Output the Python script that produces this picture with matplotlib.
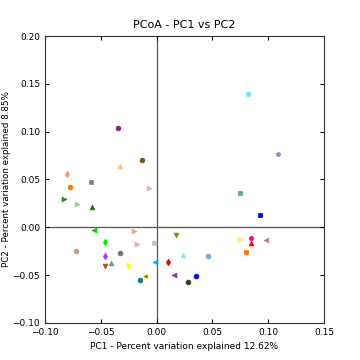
import matplotlib
matplotlib.use('Agg')
import matplotlib.pyplot as plt

# PCoA coordinates per sample
pc1 = [-0.0345, -0.013, -0.033, -0.007, -0.080, -0.078, -0.059, -0.083, -0.071, -0.058,
       0.082, 0.109, 0.075, 0.093, -0.056, -0.020, 0.017, 0.074, 0.085, 0.085,
       0.098, -0.046, -0.018, -0.002, -0.072, -0.033, -0.046, 0.024, 0.046, 0.080,
       -0.046, -0.041, -0.026, -0.001, 0.010, -0.010, -0.015, 0.016, 0.035, 0.028]
pc2 = [0.104, 0.070, 0.064, 0.041, 0.056, 0.042, 0.047, 0.030, 0.024, 0.021,
       0.139, 0.077, 0.036, 0.013, -0.003, -0.004, -0.008, -0.012, -0.011, -0.016,
       -0.013, -0.015, -0.018, -0.016, -0.025, -0.027, -0.030, -0.029, -0.030, -0.026,
       -0.041, -0.037, -0.040, -0.036, -0.036, -0.051, -0.055, -0.050, -0.051, -0.057]
markers = ['o', 'o', '^', '>', 'd', 'o', 's', '>', '>', '^',
           's', 'p', 's', 's', '<', '>', 'v', 'o', 'p', '^',
           '<', 'd', '>', 'o', 'o', 'o', 'd', '^', 'o', 's',
           'v', '^', 'v', '<', 'd', '<', 'o', '<', 'o', 'o']
colors = ['#8b1a8b', '#7a5418', '#ffc07a', '#f5a0c8', '#f4967a', '#ff7400', '#808080', '#1a8c1a', '#8fd18f', '#107a10',
          '#66e8f0', '#9e88c0', '#5f9ea0', '#0000ee', '#00cc00', '#f4a080', '#8b8b00', '#fff07a', '#ee1177', '#ff0000',
          '#c08090', '#00ee00', '#f4a0c0', '#c0c0c0', '#c89e70', '#707070', '#9d40ee', '#7aeaf0', '#7aa8e0', '#ff7000',
          '#a0521a', '#5fa0a0', '#ffff00', '#00a8ff', '#ee0000', '#6b5a00', '#008080', '#9030a0', '#0000ff', '#2f3f10']

fig = plt.figure(figsize=(3.6, 3.6), dpi=100)
ax = fig.add_axes([0.125, 0.103, 0.775, 0.797])

ax.axhline(0, color='#555555', lw=0.9, zorder=0)
ax.axvline(0, color='#555555', lw=0.9, zorder=0)

for i in range(len(pc1)):
    ec = '#ffff00' if i == 35 else colors[i]
    ax.scatter(pc1[i], pc2[i], marker=markers[i], c=colors[i], edgecolors=ec,
               s=12, linewidths=0.5, zorder=3)

ax.set_xlim(-0.10, 0.15)
ax.set_ylim(-0.10, 0.20)
ax.set_xticks([-0.10, -0.05, 0.00, 0.05, 0.10, 0.15])
ax.set_yticks([-0.10, -0.05, 0.00, 0.05, 0.10, 0.15, 0.20])
ax.set_xticklabels(['\u22120.10', '\u22120.05', '0.00', '0.05', '0.10', '0.15'])
ax.set_yticklabels(['\u22120.10', '\u22120.05', '0.00', '0.05', '0.10', '0.15', '0.20'])
ax.tick_params(direction='in', top=True, right=True, labelsize=6.5, length=3, width=0.8)
for sp in ax.spines.values():
    sp.set_color('#333333')
    sp.set_linewidth(0.8)

ax.set_title('PCoA - PC1 vs PC2', fontsize=8)
ax.set_xlabel('PC1 - Percent variation explained 12.62%', fontsize=6.5)
ax.set_ylabel('PC2 - Percent variation explained 8.85%', fontsize=6.3)
ax.yaxis.set_label_coords(-0.122, 0.5)

fig.savefig('out.png', dpi=100)
